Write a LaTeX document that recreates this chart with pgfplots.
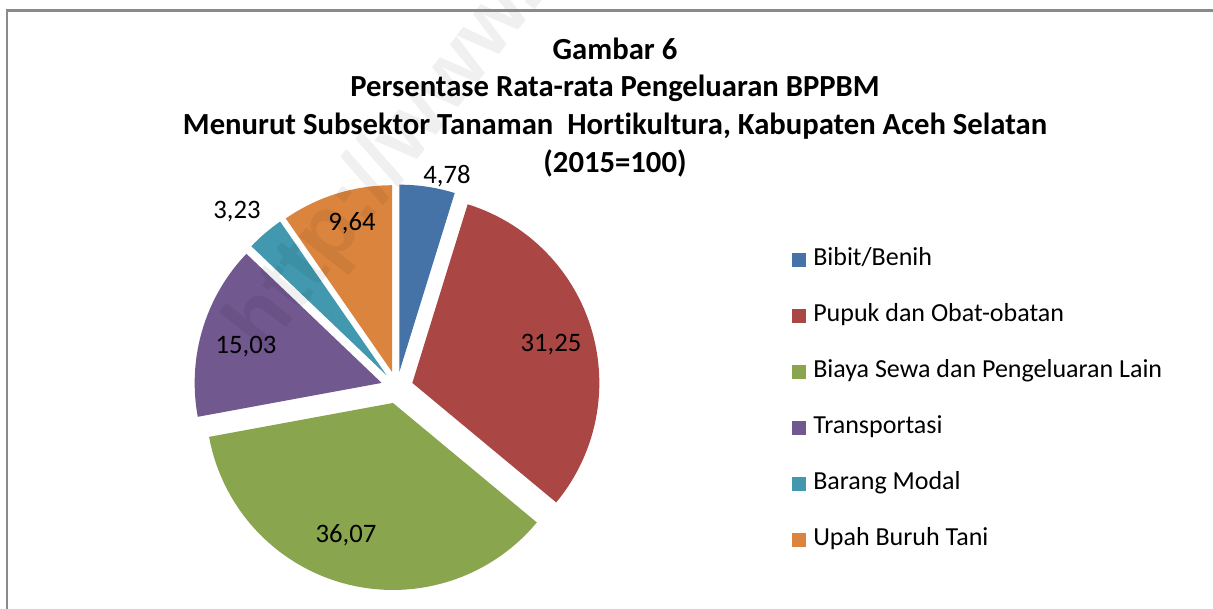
\documentclass[border=0pt]{standalone}
\usepackage{pgfplots}
\pgfplotsset{compat=1.18}
\usepackage{fontspec}
\setmainfont{Carlito}[Ligatures=NoCommon]
\newfontfamily\wmfont{Liberation Sans}

\definecolor{cBibit}{HTML}{4572A7}
\definecolor{cPupuk}{HTML}{AA4643}
\definecolor{cSewa}{HTML}{89A54E}
\definecolor{cTrans}{HTML}{71588F}
\definecolor{cModal}{HTML}{4198AF}
\definecolor{cUpah}{HTML}{DB843D}
\definecolor{frame}{HTML}{8A8A8A}

% pie centre (px), explode offset, radius
\newcommand\cx{397}
\newcommand\cy{221.5}
\newcommand\ex{16}
\newcommand\rr{187}
% #1 = cumulative start (%), #2 = value (%), #3 = colour
\newcommand\slice[3]{%
  \addplot[fill=#3, draw=none, domain=#1:#1+#2, samples=60, variable=\t]
    ({\cx+\ex*cos(90-3.6*(#1+#2/2))+\rr*cos(90-3.6*t)},
     {\cy+\ex*sin(90-3.6*(#1+#2/2))+\rr*sin(90-3.6*t)})
    -- (axis cs:{\cx+\ex*cos(90-3.6*(#1+#2/2))},{\cy+\ex*sin(90-3.6*(#1+#2/2))}) -- cycle;
}

\begin{document}
\begin{tikzpicture}
\begin{axis}[
    width=909.75pt, height=456.75pt, scale only axis,
    xmin=0, xmax=1213, ymin=0, ymax=609,
    axis lines=none,
    legend style={at={(axis cs:792,361)}, anchor=north west, draw=none, fill=none,
        inner sep=0pt, row sep=25pt, column sep=5.25pt,
        font=\fontsize{19.5pt}{23pt}\selectfont,
        nodes={inner sep=0pt, text height=13pt, text depth=4pt}},
    legend cell align=left,
    legend image code/.code={\fill[#1] (0pt,-5.25pt) rectangle (10.5pt,5.25pt);},
]
\slice{0}{4.78}{cBibit}
\addlegendentry{Bibit/Benih}
\slice{4.78}{31.25}{cPupuk}
\addlegendentry{Pupuk dan Obat-obatan}
\slice{36.03}{36.07}{cSewa}
\addlegendentry{Biaya Sewa dan Pengeluaran Lain}
\slice{72.10}{15.03}{cTrans}
\addlegendentry{Transportasi}
\slice{87.13}{3.23}{cModal}
\addlegendentry{Barang Modal}
\slice{90.36}{9.64}{cUpah}
\addlegendentry{Upah Buruh Tani}

% data labels
\begin{scope}[every node/.style={font=\fontsize{20pt}{24pt}\selectfont}]
\node at (axis cs:447,433) {4,78};
\node at (axis cs:551,264) {31,25};
\node at (axis cs:346,74) {36,07};
\node at (axis cs:246,262) {15,03};
\node at (axis cs:237,397) {3,23};
\node at (axis cs:352,386) {9,64};
\end{scope}

% title
\begin{scope}[every node/.style={anchor=base, font=\fontsize{23pt}{27pt}\selectfont\bfseries}]
\node at (axis cs:615,549) {Gambar 6};
\node at (axis cs:615,512) {Persentase Rata-rata Pengeluaran BPPBM};
\node at (axis cs:615,474) {Menurut Subsektor Tanaman\ \ Hortikultura, Kabupaten Aceh Selatan};
\node at (axis cs:615,436) {(2015=100)};
\end{scope}

% watermark
\node[rotate=52, anchor=base west, text=black, text opacity=0.06,
      font=\wmfont\bfseries\fontsize{64pt}{72pt}\selectfont]
  at (axis cs:262,250) {http://www.bps.go.id};

% chart frame
\draw[frame, line width=1.6pt] (axis cs:7,0) -- (axis cs:7,598.5) -- (axis cs:1213,598.5);
\end{axis}
\pgfresetboundingbox
\useasboundingbox (current axis.south west) rectangle (current axis.north east);
\end{tikzpicture}
\end{document}
